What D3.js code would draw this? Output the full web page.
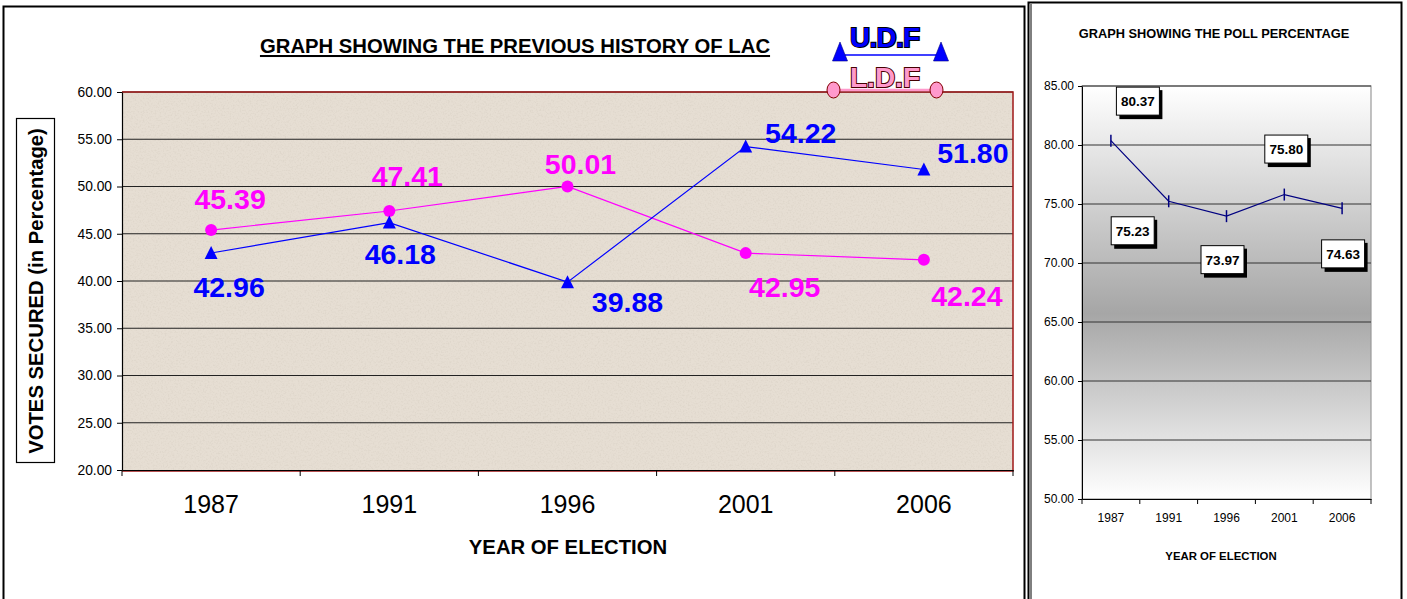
<!DOCTYPE html>
<html lang="en">
<head>
<meta charset="UTF-8">
<title>LAC history</title>
<script src="https://d3js.org/d3.v7.min.js"></script>
<style>
  html, body { margin: 0; padding: 0; background: #fff; }
  svg { display: block; font-family: Arial, "Liberation Sans", sans-serif; }
</style>
</head>
<body>
<svg id="chart" width="1407" height="599"></svg>
<script>
// data
const years = ["1987", "1991", "1996", "2001", "2006"];
const udf = [42.96, 46.18, 39.88, 54.22, 51.80];
const ldf = [45.39, 47.41, 50.01, 42.95, 42.24];
const poll = [80.37, 75.23, 73.97, 75.80, 74.63];
const voteTicks = [20, 25, 30, 35, 40, 45, 50, 55, 60];
const pollTicks = [50, 55, 60, 65, 70, 75, 80, 85];

// label offsets (px) relative to each point
const udfOff = [[18, 34], [11, 31], [60, 20], [55, -14], [49, -16]];
const ldfOff = [[19, -31], [18, -35], [13, -22], [39, 34], [43, 36]];
const pollOff = [[28, -39], [-35, 30], [-3, 44], [3, -45], [2, 46]];

const svg = d3.select("#chart");
const defs = svg.append("defs");

// ---------- left chart ----------
svg.append("rect").attr("x", 3.5).attr("y", 6.5).attr("width", 1021).attr("height", 600)
  .attr("fill", "#fff").attr("stroke", "#000").attr("stroke-width", 2);

const L = { left: 122, right: 1013, top: 92, bottom: 470 };
const x1 = d3.scaleBand().domain(years).range([L.left, L.right]);
const y1 = d3.scaleLinear().domain([20, 60]).range([L.bottom, L.top]);

// speckled beige background
const f = defs.append("filter").attr("id", "grain").attr("x", 0).attr("y", 0).attr("width", 1).attr("height", 1);
f.append("feTurbulence").attr("type", "fractalNoise").attr("baseFrequency", 0.6).attr("numOctaves", 2).attr("seed", 7).attr("result", "n");
f.append("feColorMatrix").attr("in", "n").attr("type", "matrix")
  .attr("values", "0 0 0 0 0.74  0 0 0 0 0.68  0 0 0 0 0.60  3.2 0 0 0 -1.45").attr("result", "c");
f.append("feComposite").attr("in", "c").attr("in2", "SourceGraphic").attr("operator", "atop");

svg.append("rect").attr("x", L.left).attr("y", L.top).attr("width", L.right - L.left).attr("height", L.bottom - L.top)
  .attr("fill", "#e6ded3").attr("filter", "url(#grain)");

svg.append("g").selectAll("line").data(voteTicks.slice(1)).join("line")
  .attr("x1", L.left).attr("x2", L.right).attr("y1", d => y1(d)).attr("y2", d => y1(d))
  .attr("stroke", "#222").attr("stroke-width", 1.2);

svg.append("path").attr("d", `M${L.left},${L.top}H${L.right}V${L.bottom + 1}H${L.left}`)
  .attr("fill", "none").attr("stroke", "#a01818").attr("stroke-width", 1.5);

const yAx1 = svg.append("g").attr("transform", `translate(${L.left},0)`)
  .call(d3.axisLeft(y1).tickValues(voteTicks).tickFormat(d3.format(".2f")).tickSize(5).tickSizeOuter(0));
yAx1.select(".domain").attr("stroke", "#000").attr("stroke-width", 1.2);
yAx1.selectAll("text").attr("font-size", 13.8).attr("fill", "#000").attr("font-family", "Arial, sans-serif").attr("dx", -2);

const xAx1 = svg.append("g").attr("transform", `translate(0,${L.bottom})`)
  .call(d3.axisBottom(x1).tickSize(0).tickPadding(25));
xAx1.select(".domain").attr("stroke", "#000").attr("stroke-width", 1.2);
xAx1.selectAll("text").attr("font-size", 25).attr("fill", "#000").attr("font-family", "Arial, sans-serif");
svg.append("g").selectAll("line").data(d3.range(years.length + 1)).join("line")
  .attr("x1", i => L.left + i * x1.bandwidth()).attr("x2", i => L.left + i * x1.bandwidth())
  .attr("y1", L.bottom).attr("y2", L.bottom + 6).attr("stroke", "#000");

const cx = d => x1(d) + x1.bandwidth() / 2;
const line1 = d3.line().x((d, i) => cx(years[i])).y(d => y1(d));

svg.append("path").datum(ldf).attr("d", line1).attr("fill", "none").attr("stroke", "#ff00ff").attr("stroke-width", 1.2);
svg.append("path").datum(udf).attr("d", line1).attr("fill", "none").attr("stroke", "#0000ff").attr("stroke-width", 1.2);

svg.append("g").selectAll("circle").data(ldf).join("circle")
  .attr("cx", (d, i) => cx(years[i])).attr("cy", d => y1(d)).attr("r", 6).attr("fill", "#ff00ff");
svg.append("g").selectAll("path").data(udf).join("path")
  .attr("d", "M0,-7L6.5,6H-6.5Z").attr("transform", (d, i) => `translate(${cx(years[i])},${y1(d)})`)
  .attr("fill", "#0000ff");

function valueLabels(data, off, color) {
  svg.append("g").selectAll("text").data(data).join("text")
    .attr("x", (d, i) => cx(years[i]) + off[i][0]).attr("y", (d, i) => y1(d) + off[i][1])
    .attr("text-anchor", "middle").attr("dominant-baseline", "central")
    .attr("font-size", 28.5).attr("font-weight", "bold").attr("fill", color)
    .text(d => d.toFixed(2));
}
valueLabels(udf, udfOff, "#0000ff");
valueLabels(ldf, ldfOff, "#ff00ff");

svg.append("text").attr("x", 515).attr("y", 53).attr("text-anchor", "middle")
  .attr("font-size", 20.3).attr("font-weight", "bold").attr("text-decoration", "underline")
  .text("GRAPH SHOWING THE PREVIOUS HISTORY OF LAC");

svg.append("rect").attr("x", 16.5).attr("y", 118.5).attr("width", 38).attr("height", 344)
  .attr("fill", "#fff").attr("stroke", "#000").attr("stroke-width", 1.2);
svg.append("text").attr("transform", "translate(36,291) rotate(-90)").attr("text-anchor", "middle")
  .attr("dominant-baseline", "central").attr("font-size", 20.3).attr("font-weight", "bold")
  .text("VOTES SECURED (in Percentage)");

svg.append("text").attr("x", 568).attr("y", 554).attr("text-anchor", "middle")
  .attr("font-size", 20.3).attr("font-weight", "bold").text("YEAR OF ELECTION");

// legend
const lg = svg.append("g");
lg.append("line").attr("x1", 845).attr("x2", 937).attr("y1", 55).attr("y2", 55).attr("stroke", "#0000ff").attr("stroke-width", 1.5);
lg.selectAll(".lt").data([840, 941]).join("path").attr("class", "lt")
  .attr("d", "M0,-10L7.5,9H-7.5Z").attr("transform", d => `translate(${d},52)`).attr("fill", "#0000ff")
  .attr("stroke", "#000080").attr("stroke-width", 0.6);
lg.append("text").attr("x", 885).attr("y", 47).attr("text-anchor", "middle").attr("font-size", 28)
  .attr("font-weight", "bold").attr("fill", "#0000ff").attr("stroke", "#000").attr("stroke-width", 2)
  .attr("paint-order", "stroke").attr("textLength", 70).text("U.D.F");
lg.append("line").attr("x1", 834).attr("x2", 936).attr("y1", 90).attr("y2", 90).attr("stroke", "#ff99cc").attr("stroke-width", 2.5);
lg.selectAll(".lc").data([833.5, 936.5]).join("ellipse").attr("class", "lc")
  .attr("cx", d => d).attr("cy", 90).attr("rx", 6.5).attr("ry", 8).attr("fill", "#ff99cc").attr("stroke", "#800000").attr("stroke-width", 1);
lg.append("text").attr("x", 885).attr("y", 87).attr("text-anchor", "middle").attr("font-size", 28)
  .attr("font-weight", "bold").attr("fill", "#ff99cc").attr("stroke", "#400").attr("stroke-width", 2)
  .attr("paint-order", "stroke").attr("textLength", 70).text("L.D.F");

// ---------- right chart ----------
svg.append("rect").attr("x", 1028.5).attr("y", 2.5).attr("width", 373).attr("height", 600)
  .attr("fill", "#fff").attr("stroke", "#000").attr("stroke-width", 2);
svg.append("line").attr("x1", 1031).attr("x2", 1031).attr("y1", 4).attr("y2", 599).attr("stroke", "#000").attr("stroke-width", 1);

const R = { left: 1082, right: 1371, top: 86, bottom: 499 };
const x2 = d3.scaleBand().domain(years).range([R.left, R.right]);
const y2 = d3.scaleLinear().domain([50, 85]).range([R.bottom, R.top]);

const g2 = defs.append("linearGradient").attr("id", "grey").attr("x1", 0).attr("x2", 0).attr("y1", 0).attr("y2", 1);
g2.append("stop").attr("offset", "0%").attr("stop-color", "#ffffff");
g2.append("stop").attr("offset", "55%").attr("stop-color", "#a6a6a6");
g2.append("stop").attr("offset", "100%").attr("stop-color", "#ffffff");
svg.append("rect").attr("x", R.left).attr("y", R.top).attr("width", R.right - R.left).attr("height", R.bottom - R.top)
  .attr("fill", "url(#grey)").attr("stroke", "#999").attr("stroke-width", 1.2);

svg.append("g").selectAll("line").data(pollTicks.slice(1)).join("line")
  .attr("x1", R.left).attr("x2", R.right).attr("y1", d => y2(d)).attr("y2", d => y2(d))
  .attr("stroke", "#333").attr("stroke-width", 1);

const yAx2 = svg.append("g").attr("transform", `translate(${R.left},0)`)
  .call(d3.axisLeft(y2).tickValues(pollTicks).tickFormat(d3.format(".2f")).tickSize(4).tickSizeOuter(0));
yAx2.select(".domain").attr("stroke", "#000");
yAx2.selectAll("text").attr("font-size", 12).attr("fill", "#000").attr("font-family", "Arial, sans-serif").attr("dx", -1);

const xAx2 = svg.append("g").attr("transform", `translate(0,${R.bottom})`)
  .call(d3.axisBottom(x2).tickSize(0).tickPadding(14));
xAx2.select(".domain").attr("stroke", "#000").attr("stroke-width", 1.2);
xAx2.selectAll("text").attr("font-size", 12).attr("fill", "#000").attr("font-family", "Arial, sans-serif");
svg.append("g").selectAll("line").data(d3.range(years.length + 1)).join("line")
  .attr("x1", i => R.left + i * x2.bandwidth()).attr("x2", i => R.left + i * x2.bandwidth())
  .attr("y1", R.bottom).attr("y2", R.bottom + 5).attr("stroke", "#000");

const cx2 = d => x2(d) + x2.bandwidth() / 2;
svg.append("path").datum(poll).attr("d", d3.line().x((d, i) => cx2(years[i])).y(d => y2(d)))
  .attr("fill", "none").attr("stroke", "#000080").attr("stroke-width", 1.2);
svg.append("g").selectAll("line").data(poll).join("line")
  .attr("x1", (d, i) => cx2(years[i])).attr("x2", (d, i) => cx2(years[i]))
  .attr("y1", d => y2(d) - 6).attr("y2", d => y2(d) + 6).attr("stroke", "#000080").attr("stroke-width", 1.5);

const lbl = svg.append("g").selectAll("g").data(poll).join("g")
  .attr("transform", (d, i) => `translate(${cx2(years[i]) + pollOff[i][0]},${y2(d) + pollOff[i][1]})`);
lbl.append("rect").attr("x", -19.5).attr("y", -11.5).attr("width", 43).attr("height", 29).attr("fill", "#000");
lbl.append("rect").attr("x", -22.5).attr("y", -14.5).attr("width", 43).attr("height", 28)
  .attr("fill", "#fff").attr("stroke", "#000").attr("stroke-width", 1);
lbl.append("text").attr("x", -1).attr("y", 0).attr("text-anchor", "middle").attr("dominant-baseline", "central")
  .attr("font-size", 13.5).attr("font-weight", "bold").text(d => d.toFixed(2));

svg.append("text").attr("x", 1214).attr("y", 38).attr("text-anchor", "middle")
  .attr("font-size", 12.8).attr("font-weight", "bold").text("GRAPH SHOWING THE POLL PERCENTAGE");
svg.append("text").attr("x", 1221).attr("y", 560).attr("text-anchor", "middle")
  .attr("font-size", 11.4).attr("font-weight", "bold").text("YEAR OF ELECTION");
</script>
</body>
</html>
